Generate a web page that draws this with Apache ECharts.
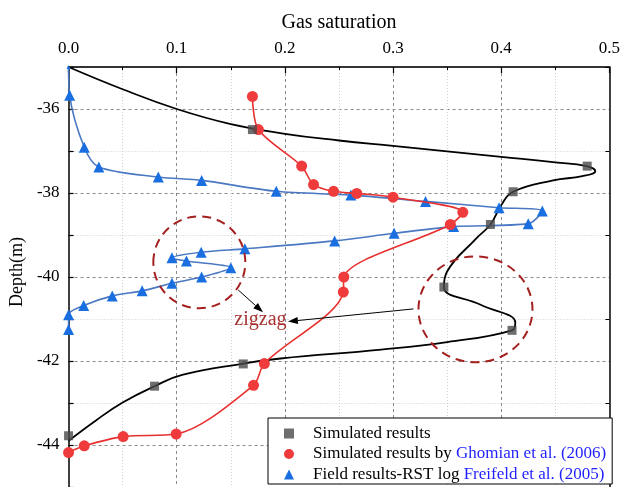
<!DOCTYPE html>
<html>
<head>
<meta charset="utf-8">
<script src="https://cdn.jsdelivr.net/npm/echarts@6.0.0/dist/echarts.min.js"></script>
<style>
  html, body { margin: 0; padding: 0; background: #fff; }
  #chart { width: 623px; height: 487px; }
</style>
</head>
<body>
<div id="chart"></div>
<script>
// values: [gas saturation, depth (m)]
const simCurve = [
  [0, -35], [0.05, -35.53], [0.1, -36.0], [0.15, -36.36], [0.2, -36.59], [0.25, -36.75],
  [0.3, -36.88], [0.35, -37.01], [0.4, -37.14], [0.45, -37.27], [0.479, -37.36], [0.487, -37.48],
  [0.475, -37.6], [0.448, -37.7], [0.411, -37.97], [0.4, -38.29], [0.39, -38.75], [0.377, -39.08],
  [0.35, -39.87], [0.347, -40.24], [0.381, -40.66], [0.413, -41.09], [0.41, -41.27], [0.35, -41.55],
  [0.289, -41.73], [0.196, -41.94], [0.1615, -42.06], [0.105, -42.33], [0.0795, -42.6], [0.05, -42.99],
  [0.025, -43.42], [0, -43.9]
];
const simMarkers = [
  [0.17, -36.49], [0.4795, -37.36], [0.411, -37.97], [0.39, -38.75], [0.347, -40.24],
  [0.41, -41.27], [0.1615, -42.07], [0.0795, -42.6], [0, -43.78]
];
const ghomian = [
  [0.17, -35.7], [0.1755, -36.49], [0.2155, -37.36], [0.2265, -37.8], [0.245, -37.96],
  [0.2665, -38.01], [0.3, -38.1], [0.3645, -38.46], [0.353, -38.75], [0.2545, -40.0],
  [0.254, -40.36], [0.181, -42.06], [0.171, -42.58], [0.0995, -43.74], [0.0505, -43.8],
  [0.0145, -44.02], [0, -44.18]
];
const freifeld = [
  [0, -35], [0.001, -35.67], [0.0145, -36.91], [0.028, -37.38], [0.083, -37.62], [0.123, -37.7],
  [0.192, -37.96], [0.261, -38.05], [0.33, -38.2], [0.398, -38.35], [0.438, -38.43], [0.425, -38.73],
  [0.356, -38.8], [0.301, -38.96], [0.246, -39.14], [0.163, -39.33], [0.1226, -39.41], [0.0956, -39.54],
  [0.109, -39.62], [0.15, -39.78], [0.123, -40.0], [0.0956, -40.15], [0.068, -40.33], [0.0404, -40.45],
  [0.014, -40.68], [0, -40.9], [0, -41.25]
];
const seriesNames = [
  'Simulated results',
  'Simulated results by Ghomian et al. (2006)',
  'Field results-RST log Freifeld et al. (2005)'
];

// annotation anchors in data space
const zigzagRings = [[0.1209, -39.65], [0.3762, -40.77]];
const zigzagLabel = [0.1774, -41.02];
const zigzagArrows = [
  [[0.1569, -40.31], [0.1798, -40.84]],
  [[0.3189, -40.76], [0.2028, -41.06]]
];

const FONT = '"Liberation Serif", "Times New Roman", serif';
const chart = echarts.init(document.getElementById('chart'));

const option = {
  animation: false,
  grid: { left: 66, top: 67, width: 544, height: 422 },
  xAxis: {
    type: 'value', position: 'top', min: 0, max: 0.5, interval: 0.1,
    name: 'Gas saturation', nameLocation: 'middle', nameGap: 34,
    nameTextStyle: { fontFamily: FONT, fontSize: 20, color: '#000' },
    axisLine: { lineStyle: { color: '#333', width: 2 } },
    axisTick: { inside: true, length: 6, lineStyle: { color: '#000', width: 1.2 } },
    minorTick: { show: true, splitNumber: 2, length: 3, lineStyle: { color: '#000' } },
    axisLabel: { fontFamily: FONT, fontSize: 17, color: '#000', margin: 10,
      formatter: v => v.toFixed(1) },
    splitLine: { show: true, showMinLine: false, showMaxLine: false,
      lineStyle: { color: '#8a8a8a', type: [3, 3], width: 1 } },
    minorSplitLine: { show: true, lineStyle: { color: '#cfcfcf', type: [1, 2], width: 1 } }
  },
  yAxis: [
    {
      type: 'value', position: 'left', min: -45, max: -35, interval: 1,
      name: 'Depth(m)', nameLocation: 'middle', nameGap: 41,
      nameTextStyle: { fontFamily: FONT, fontSize: 18, color: '#000', padding: [0, 0, 0, 10] },
      axisLine: { lineStyle: { color: '#000', width: 1.5 } },
      axisTick: { inside: true, length: 5, lineStyle: { color: '#000', width: 1.2 } },
      axisLabel: { fontFamily: FONT, fontSize: 17, color: '#000', margin: 9,
        formatter: v => (v % 2 === 0 ? String(v) : '') },
      splitLine: { show: true, lineStyle: { color: ['rgba(0,0,0,0)', '#8a8a8a'], type: [3, 3], width: 1 } }
    },
    {
      type: 'value', position: 'right', min: -45, max: -35, interval: 2,
      axisLine: { show: true, lineStyle: { color: '#000', width: 1.5 } },
      axisTick: { show: true, inside: true, length: 4, lineStyle: { color: '#000' } },
      axisLabel: { show: false },
      splitLine: { show: true, showMinLine: false, showMaxLine: false,
        lineStyle: { color: '#cfcfcf', type: [1, 2], width: 1 } }
    }
  ],
  legend: {
    orient: 'vertical', left: 268, top: 418,
    padding: [7, 6, 1, 16], itemGap: 3.5,
    itemWidth: 10, itemHeight: 10,
    backgroundColor: '#fff', borderColor: '#000', borderWidth: 1, borderRadius: 0,
    data: [
      { name: seriesNames[0], icon: 'rect' },
      { name: seriesNames[1], icon: 'circle' },
      { name: seriesNames[2], icon: 'triangle' }
    ],
    textStyle: {
      fontFamily: FONT, fontSize: 17, color: '#000',
      rich: {
        gap: { width: 14 },
        cite: { fontFamily: FONT, fontSize: 17, color: '#1f1fff' }
      }
    },
    formatter: name => '{gap|}' + name.replace(/(\S+ et al\. \(\d{4}\))/, '{cite|$1}')
  },
  series: [
    {
      name: 'curve', type: 'line', data: simCurve, smooth: 0.45,
      showSymbol: false, symbol: 'none', z: 2,
      lineStyle: { color: '#000', width: 1.8 }
    },
    {
      name: seriesNames[0], type: 'scatter', data: simMarkers,
      symbol: 'rect', symbolSize: 9, z: 5,
      itemStyle: { color: '#4a4a4a' }
    },
    {
      name: seriesNames[1], type: 'line', data: ghomian, smooth: 0.3,
      symbol: 'circle', symbolSize: 11, showAllSymbol: true, z: 4,
      lineStyle: { color: '#e8302f', width: 1.6 },
      itemStyle: { color: '#ef3b3b' }
    },
    {
      name: seriesNames[2], type: 'line', data: freifeld, smooth: 0.3,
      symbol: 'triangle', showAllSymbol: true, z: 3,
      symbolSize: (v, p) => (p.dataIndex === 0 ? 4 : 11),
      lineStyle: { color: '#4a78c2', width: 1.6 },
      itemStyle: { color: '#1a6fe0' }
    }
  ]
};
chart.setOption(option);

// zigzag annotations, placed through the chart's own coordinate conversion
const toPx = p => chart.convertToPixel({ seriesIndex: 0 }, p);
const ringSizes = [[46, 46], [57, 53]];
const graphics = [];
zigzagRings.forEach((c, i) => {
  const [cx, cy] = toPx(c);
  graphics.push({
    type: 'ellipse', z: 10, silent: true,
    shape: { cx, cy, rx: ringSizes[i][0], ry: ringSizes[i][1] },
    style: { fill: 'none', stroke: '#a3201f', lineWidth: 2, lineDash: [9, 6] }
  });
});
zigzagArrows.forEach(([a, b]) => {
  const p1 = toPx(a), p2 = toPx(b);
  const ang = Math.atan2(p2[1] - p1[1], p2[0] - p1[0]);
  const len = 10, hw = 3.5;
  const bx = p2[0] - len * Math.cos(ang), by = p2[1] - len * Math.sin(ang);
  graphics.push({
    type: 'line', z: 10, silent: true,
    shape: { x1: p1[0], y1: p1[1], x2: bx, y2: by },
    style: { stroke: '#000', lineWidth: 1 }
  });
  graphics.push({
    type: 'polygon', z: 10, silent: true,
    shape: { points: [p2,
      [bx + hw * Math.sin(ang), by - hw * Math.cos(ang)],
      [bx - hw * Math.sin(ang), by + hw * Math.cos(ang)]] },
    style: { fill: '#000' }
  });
});
const lp = toPx(zigzagLabel);
graphics.push({
  type: 'text', z: 10, silent: true, x: lp[0], y: lp[1],
  style: { text: 'zigzag', fill: '#a83232', font: '20px ' + FONT,
    textAlign: 'center', textVerticalAlign: 'middle' }
});
chart.setOption({ graphic: graphics });
</script>
</body>
</html>
